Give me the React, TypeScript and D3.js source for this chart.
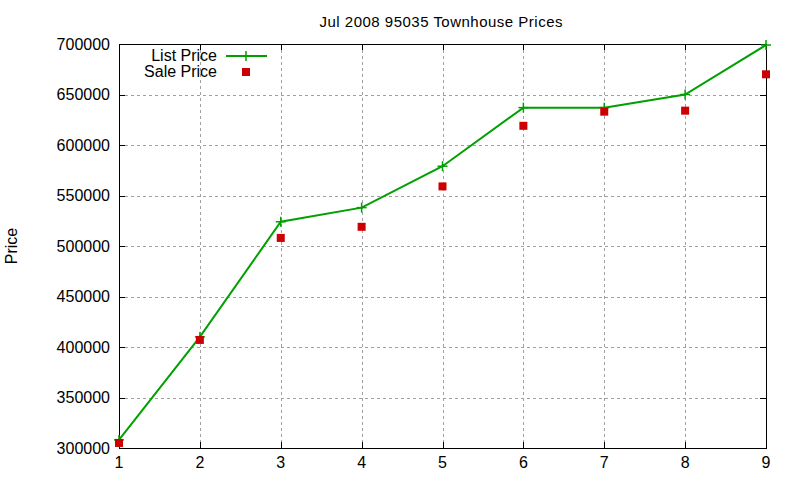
import React from "react";
import * as d3 from "d3";

const xValues = [1, 2, 3, 4, 5, 6, 7, 8, 9];
const listPrice = [308000, 410000, 524000, 538000, 579000, 637000, 637000, 650000, 699000];
const salePrice = [305000, 407000, 508000, 519000, 559000, 619000, 633000, 634000, 670000];
const yTicks = [300000, 350000, 400000, 450000, 500000, 550000, 600000, 650000, 700000];
const xTicks = [1, 2, 3, 4, 5, 6, 7, 8, 9];

const W = 800, H = 480;
const L = 119, R = 766, T = 44, B = 448;
const FONT = "'Liberation Sans', Arial, sans-serif";
const GREEN = "#00a000";
const RED = "#cc0000";

export default function App() {
  const x = d3.scaleLinear().domain([1, 9]).range([L, R]);
  const y = d3.scaleLinear().domain([300000, 700000]).range([B, T]);
  const line = d3.line<number>().x((_, i) => x(xValues[i])).y((d) => y(d));
  const tl = 6;
  const cross = (cx: number, cy: number, k: string) => (
    <g key={k} stroke={GREEN} strokeWidth={1.5}>
      <line x1={cx - 5} x2={cx + 5} y1={cy} y2={cy} />
      <line x1={cx} x2={cx} y1={cy - 5} y2={cy + 5} />
    </g>
  );
  return (
    <svg width={W} height={H} style={{ position: "absolute", left: 0, top: 0, background: "#fff" }} fontFamily={FONT}>
      <rect x={0} y={0} width={W} height={H} fill="#fff" />
      {/* grid */}
      <g stroke="#a0a0a0" strokeWidth={1} strokeDasharray="3,3">
        {yTicks.slice(1, -1).map((t) => (
          <line key={"gy" + t} x1={L} x2={R} y1={Math.round(y(t)) + 0.5} y2={Math.round(y(t)) + 0.5} />
        ))}
        {xTicks.slice(1, -1).map((t) => (
          <line key={"gx" + t} y1={T} y2={B} x1={Math.round(x(t)) + 0.5} x2={Math.round(x(t)) + 0.5} />
        ))}
      </g>
      {/* ticks */}
      <g stroke="#000" strokeWidth={1}>
        {yTicks.map((t) => {
          const yy = Math.round(y(t)) + 0.5;
          return (
            <g key={"ty" + t}>
              <line x1={L} x2={L + tl} y1={yy} y2={yy} />
              <line x1={R} x2={R - tl} y1={yy} y2={yy} />
            </g>
          );
        })}
        {xTicks.map((t) => {
          const xx = Math.round(x(t)) + 0.5;
          return (
            <g key={"tx" + t}>
              <line x1={xx} x2={xx} y1={B} y2={B - tl} />
              <line x1={xx} x2={xx} y1={T} y2={T + tl} />
            </g>
          );
        })}
      </g>
      <rect x={L + 0.5} y={T + 0.5} width={R - L} height={B - T} fill="none" stroke="#000" strokeWidth={1} />
      {/* tick labels */}
      <g fontSize={16} fill="#000">
        {yTicks.map((t) => (
          <text key={"ly" + t} x={L - 9} y={y(t)} dy="0.35em" textAnchor="end">{t}</text>
        ))}
        {xTicks.map((t) => (
          <text key={"lx" + t} x={x(t)} y={B + 20} textAnchor="middle">{t}</text>
        ))}
      </g>
      <text x={441} y={27} textAnchor="middle" fontSize={15} textLength={243} lengthAdjust="spacing">Jul 2008 95035 Townhouse Prices</text>
      <text transform={`translate(17,246) rotate(-90)`} textAnchor="middle" fontSize={16}>Price</text>
      {/* series */}
      <path d={line(listPrice) || ""} fill="none" stroke={GREEN} strokeWidth={2} />
      {listPrice.map((v, i) => cross(x(xValues[i]), y(v), "c" + i))}
      {salePrice.map((v, i) => (
        <rect key={"s" + i} x={x(xValues[i]) - 4} y={y(v) - 4} width={8} height={8} fill={RED} />
      ))}
      {/* legend */}
      <text x={217} y={61} textAnchor="end" fontSize={16}>List Price</text>
      <line x1={226} x2={267} y1={56} y2={56} stroke={GREEN} strokeWidth={2} />
      {cross(246, 56, "lc")}
      <text x={217} y={77} textAnchor="end" fontSize={16}>Sale Price</text>
      <rect x={242} y={68} width={8} height={8} fill={RED} />
    </svg>
  );
}
